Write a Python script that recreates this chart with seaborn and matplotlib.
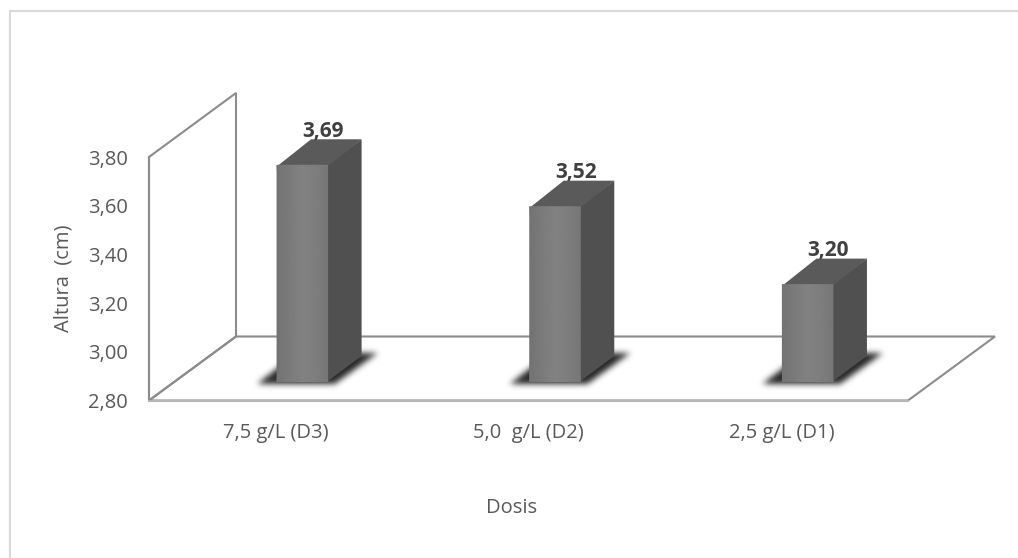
import matplotlib
matplotlib.use("Agg")
import matplotlib.pyplot as plt
import seaborn as sns
import numpy as np
from matplotlib.colors import LinearSegmentedColormap
from matplotlib.patches import Polygon
from matplotlib.path import Path
from matplotlib.transforms import IdentityTransform

# datos
doses = ["7,5 g/L (D3)", "5,0  g/L (D2)", "2,5 g/L (D1)"]
heights = [3.69, 3.52, 3.20]
labels = ["3,69", "3,52", "3,20"]
yticks = [2.8, 3.0, 3.2, 3.4, 3.6, 3.8]
yticklabels = ["2,80", "3,00", "3,20", "3,40", "3,60", "3,80"]

sns.set_theme(style="white")
plt.rcParams["font.family"] = ["Open Sans", "DejaVu Sans"]

W, H = 1018, 558
fig = plt.figure(figsize=(W / 100, H / 100), dpi=100)


def px_axes(x0, y_top, x1, y_bot, **kw):
    return fig.add_axes([x0 / W, (H - y_bot) / H, (x1 - x0) / W, (y_bot - y_top) / H], **kw)


def poly(ax, pts, **kw):
    # puntos en pixeles de la figura
    p = Polygon(pts, closed=True, transform=IdentityTransform(), clip_on=False, **kw)
    ax.add_artist(p)
    return p


# ejes frontales (escala, etiquetas)
ax = px_axes(149, 157, 908, 400.5, zorder=1)
ax.set_facecolor("none")
ax.set_xlim(-0.5, 2.5)
ax.set_ylim(2.8, 3.8)
ax.set_xticks(range(len(doses)), doses)
ax.set_yticks(yticks, yticklabels)
ax.tick_params(length=0, labelsize=14.5, labelcolor="#595959")
ax.tick_params(axis="x", pad=16)
ax.tick_params(axis="y", pad=15)
for t in ax.get_yticklabels():
    t.set_verticalalignment("center_baseline")
for s in ["top", "right"]:
    ax.spines[s].set_visible(False)
ax.spines["left"].set_color("#8c8c8c")
ax.spines["left"].set_linewidth(1.5)
ax.spines["bottom"].set_color("#b5b5b5")
ax.spines["bottom"].set_linewidth(1.5)
ax.set_ylabel("Altura  (cm)", fontsize=14.5, color="#595959")
ax.yaxis.set_label_coords(-0.1, 0.5)
ax.set_xlabel("Dosis", fontsize=14.5, color="#595959", x=0.478, labelpad=40)

# pared y piso en perspectiva
dx, dy = 87, 64
x0, y0 = ax.transAxes.transform((0, 0))
x1, y1 = ax.transAxes.transform((1, 1))
frame = dict(fill=False, ec="#8c8c8c", lw=1.5, zorder=0.5)
poly(ax, [(x0, y1), (x0 + dx, y1 + dy), (x0 + dx, y0 + dy), (x0, y0)], **frame)
poly(ax, [(x0, y0), (x0 + dx, y0 + dy), (x1 + dx, y0 + dy), (x1, y0)], **frame)

# barras, desplazadas hacia el fondo
ax_bar = px_axes(176, 138.5, 934, 382, zorder=2)
ax_bar.set_facecolor("none")
sns.barplot(x=doses, y=heights, width=0.2, color="#7b7b7b", saturation=1, linewidth=0, ax=ax_bar)
ax_bar.set_xlim(-0.5, 2.5)
ax_bar.set_ylim(2.8, 3.8)
ax_bar.axis("off")

bx, by = 34, 26
grad = np.array([0.0, 0.5, 1.0, 0.7, 0.3])
cmap = LinearSegmentedColormap.from_list("cara", ["#737373", "#828282"])
gx, gy = np.meshgrid(np.arange(W) + 0.5, np.arange(H) + 0.5)
grid = np.column_stack([gx.ravel(), gy.ravel()])
mask = np.zeros(H * W)
for bar, lab in zip(ax_bar.patches, labels):
    l, b = ax_bar.transData.transform((bar.get_x(), 2.8))
    r, t = ax_bar.transData.transform((bar.get_x() + bar.get_width(), bar.get_height()))
    # sombra
    mask += Path([(l - 20, b - 2), (r + 7, b - 2), (r + 50, b + 29), (l + 20, b + 29)]).contains_points(grid)
    # caras
    poly(ax_bar, [(r - 1, b), (r + bx, b + by), (r + bx, t + by), (r - 1, t)], fc="#505050", ec="none", zorder=3)
    poly(ax_bar, [(l, t - 1), (l + bx, t + by), (r + bx, t + by), (r, t - 1)], fc="#5a5a5a", ec="none", zorder=3)
    bar.set_zorder(4)
    cx = bar.get_x() + bar.get_width() / 2
    ax_bar.annotate(lab, (cx, bar.get_height()), xytext=(15, 24.5), textcoords="offset points",
                    ha="center", va="center", fontsize=15, fontweight="bold", color="#404040",
                    zorder=6, annotation_clip=False)
    # degradado de la cara frontal
    xs = np.linspace(bar.get_x(), bar.get_x() + bar.get_width(), len(grad))
    ax_bar.pcolormesh(xs, [2.8, bar.get_height()], np.vstack([grad, grad]), cmap=cmap,
                      shading="gouraud", zorder=5)
ax_bar.set_xlim(-0.5, 2.5)
ax_bar.set_ylim(2.8, 3.8)

# difuminar la sombra y ponerla entre los dos ejes
kernel = np.exp(-0.5 * (np.arange(-10, 11) / 3.0) ** 2)
kernel /= kernel.sum()
blur = mask.reshape(H, W)
blur = np.apply_along_axis(np.convolve, 0, blur, kernel, mode="same")
blur = np.apply_along_axis(np.convolve, 1, blur, kernel, mode="same")
shadow = np.zeros((H, W, 4))
shadow[..., 3] = np.clip(blur, 0, 1) * 0.85
fig.figimage(shadow, 0, 0, origin="lower", zorder=1.5)

# borde del grafico
fig.add_artist(plt.Line2D([10 / W, 10 / W, 1], [0, (H - 11) / H, (H - 11) / H], color="#d9d9d9", lw=1.5))

fig.savefig("out.png", dpi=100, facecolor="white")
